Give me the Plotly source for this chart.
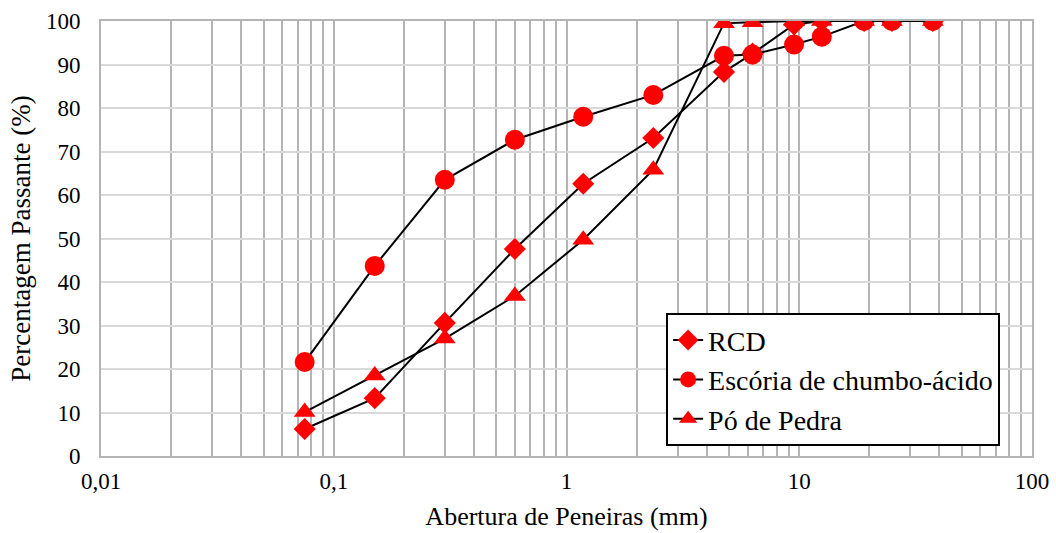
import plotly.graph_objects as go

# Sieve openings (mm) and cumulative percentage passing
aberturas = [0.075, 0.15, 0.3, 0.6, 1.18, 2.36, 4.75, 6.3, 9.5, 12.5, 19, 25, 37.5]
rcd = [6.2, 13.3, 30.6, 47.6, 62.6, 73.1, 88.3, 92.5, 99.2, 100, 100, 100, 100]
escoria = [21.6, 43.7, 63.5, 72.7, 78.0, 83.0, 92.0, 92.3, 94.6, 96.4, 100, 100, 100]
po_pedra = [10.1, 18.5, 27.0, 36.8, 49.7, 65.8, 99.5, 99.7, 100, 100, 100, 100, 100]

x_tickvals = [0.01, 0.1, 1, 10, 100]
x_ticktext = ["0,01", "0,1", "1", "10", "100"]
minor_vals = [m * 10 ** e for e in range(-2, 2) for m in range(2, 10)]

series = [
    ("RCD", rcd, "diamond", 17),
    ("Escória de chumbo-ácido", escoria, "circle", 20),
    ("Pó de Pedra", po_pedra, "triangle-up", 19),
]

FONT = "Liberation Serif"

fig = go.Figure()
for i, (name, vals, sym, size) in enumerate(series):
    fig.add_trace(go.Scatter(
        x=aberturas, y=vals, name=name, mode="lines+markers",
        legendgroup=f"g{i}",
        line=dict(color="black", width=2),
        marker=dict(symbol=sym, size=size, color="#ff0000", line=dict(width=0)),
    ))

fig.update_layout(
    template="none",
    width=1056, height=533,
    margin=dict(l=101, r=24, t=21, b=77),
    paper_bgcolor="white", plot_bgcolor="white",
    font_family=FONT, font_size=23, font_color="black",
    showlegend=True,
)
fig.update_layout(legend=dict(
    x=0.607, y=0.328, xanchor="left", yanchor="top",
    bgcolor="white", bordercolor="black", borderwidth=2,
    font=dict(family=FONT, size=28, color="black"),
    tracegroupgap=0, traceorder="grouped",
))
fig.update_xaxes(
    type="log", range=[-2, 2],
    tickvals=x_tickvals, ticktext=x_ticktext,
    showgrid=True, gridcolor="#b4b4b4", gridwidth=2,
    minor=dict(tickvals=minor_vals, showgrid=True, gridcolor="#b4b4b4", gridwidth=2),
    showline=True, linecolor="#b4b4b4", linewidth=2, mirror=True,
    ticks="", tickfont=dict(family=FONT, size=23, color="black"),
    ticklabelstandoff=3,
    title=dict(text="Abertura de Peneiras (mm)", font=dict(family=FONT, size=26, color="black"), standoff=14),
    zeroline=False,
)
fig.update_yaxes(
    range=[0, 100], dtick=10,
    showgrid=True, gridcolor="#d9d9d9", gridwidth=2,
    showline=True, linecolor="#b4b4b4", linewidth=2, mirror=True,
    ticks="", tickfont=dict(family=FONT, size=23, color="black"),
    ticklabelstandoff=14,
    title=dict(text="Percentagem Passante (%)", font=dict(family=FONT, size=27, color="black"), standoff=7),
    zeroline=False,
)

fig.write_html("out.html")
